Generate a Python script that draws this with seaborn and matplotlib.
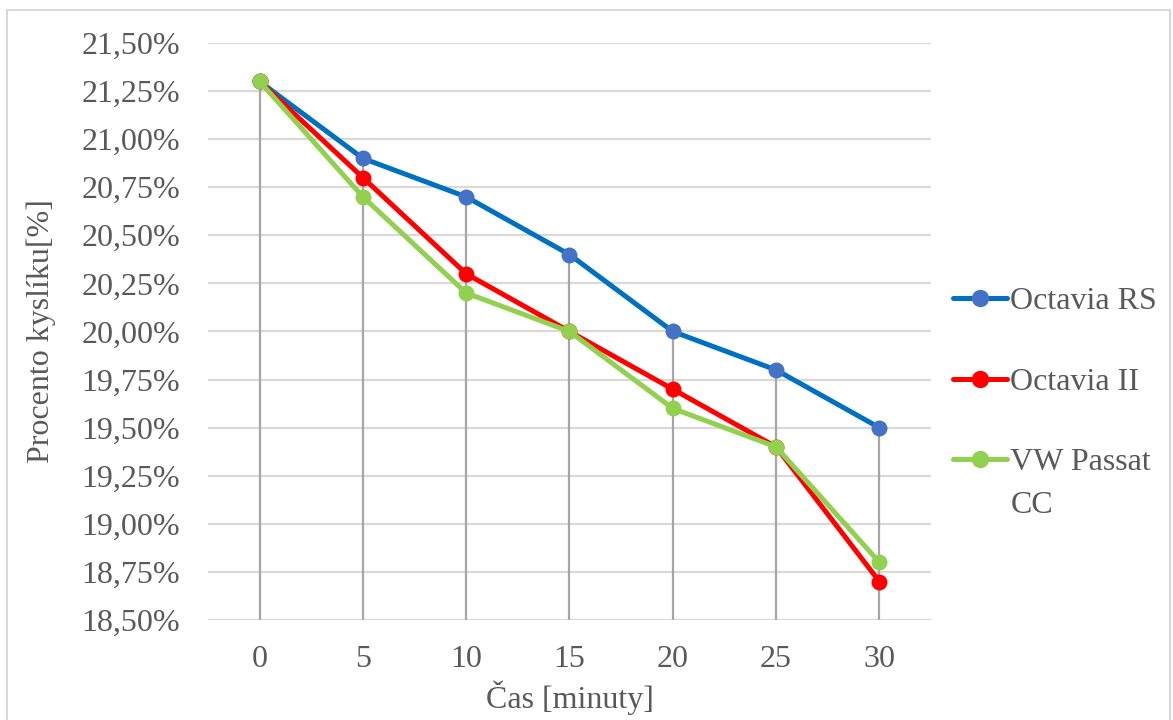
import pandas as pd
import seaborn as sns
import matplotlib.pyplot as plt
from matplotlib.patches import Rectangle
from matplotlib.lines import Line2D
from matplotlib.ticker import FuncFormatter

# data
times = [0, 5, 10, 15, 20, 25, 30]
octavia_rs = [21.30, 20.90, 20.70, 20.40, 20.00, 19.80, 19.50]
octavia_ii = [21.30, 20.80, 20.30, 20.00, 19.70, 19.40, 18.70]
passat_cc = [21.30, 20.70, 20.20, 20.00, 19.60, 19.40, 18.80]

series_names = ["Octavia RS", "Octavia II", "VW Passat CC"]
line_colors = ["#0070C0", "#FF0000", "#92D050"]
marker_colors = ["#4472C4", "#FF0000", "#92D050"]

y_ticks = [18.50, 18.75, 19.00, 19.25, 19.50, 19.75, 20.00, 20.25, 20.50, 20.75, 21.00, 21.25, 21.50]

# long format for seaborn
df = pd.DataFrame({
    "cas": times * 3,
    "kyslik": octavia_rs + octavia_ii + passat_cc,
    "auto": [series_names[0]] * 7 + [series_names[1]] * 7 + [series_names[2]] * 7,
})

sns.set_theme(style="white")
plt.rcParams["font.family"] = ["Liberation Serif", "DejaVu Serif"]
text_color = "#595959"

fig = plt.figure(figsize=(11.73, 7.2), dpi=100)
ax = fig.add_axes([0.1773, 0.1389, 0.6164, 0.8014])

# outer frame of the chart
fig.patches.append(Rectangle((7 / 1173, -0.02), (1170 - 7) / 1173, 1.02 - 10 / 720,
                             transform=fig.transFigure, fill=False,
                             edgecolor="#D9D9D9", linewidth=1.5))

# drop lines from the highest point down to the axis
tops = [max(a, b, c) for a, b, c in zip(octavia_rs, octavia_ii, passat_cc)]
ax.vlines(times, y_ticks[0], tops, color="#A6A6A6", linewidth=1.6, zorder=1)

sns.lineplot(data=df, x="cas", y="kyslik", hue="auto", palette=line_colors,
             marker="o", markersize=11.5, linewidth=3.6, markeredgewidth=0,
             legend=False, ax=ax, zorder=3)

for line, mc in zip(ax.get_lines(), marker_colors):
    line.set_markerfacecolor(mc)
    line.set_markeredgecolor(mc)

ax.set_xlim(-2.5, 32.5)
ax.set_ylim(18.5, 21.5)
ax.set_xticks(times)
ax.set_xticklabels([str(t) for t in times])
ax.set_yticks(y_ticks)
ax.yaxis.set_major_formatter(FuncFormatter(lambda v, p: f"{v:.2f}%".replace(".", ",")))

ax.grid(axis="y", color="#D9D9D9", linewidth=1.6)
ax.grid(axis="x", visible=False)
ax.set_axisbelow(True)
for s in ax.spines.values():
    s.set_visible(False)

ax.tick_params(axis="y", length=0, pad=20, labelsize=23, labelcolor=text_color)
ax.tick_params(axis="x", length=0, pad=18, labelsize=23, labelcolor=text_color)

ax.set_xlabel("Čas [minuty]", fontsize=23, color=text_color)
ax.set_ylabel("Procento kyslíku[%]", fontsize=23, color=text_color)
ax.xaxis.set_label_coords(0.5, -0.105)
ax.yaxis.set_label_coords(-0.21, 0.5)

# legend: the last name wraps onto a second line like in the original
handles = [Line2D([0], [0], color=lc, linewidth=3.6, marker="o", markersize=11.5,
                  markerfacecolor=mc, markeredgecolor=mc)
           for lc, mc in zip(line_colors, marker_colors)]
first_lines = [n.rsplit(" ", 1)[0] if n == series_names[2] else n for n in series_names]
leg = fig.legend(handles, first_lines, loc="center left",
                 bbox_to_anchor=(940 / 1173, 1 - 382 / 720), frameon=False,
                 fontsize=23, handlelength=1.7, handletextpad=0.1,
                 labelspacing=1.6, borderaxespad=0)
for t in leg.get_texts():
    t.set_color(text_color)

fig.canvas.draw()
last = leg.get_texts()[2].get_window_extent()
inv = fig.transFigure.inverted()
x0, y0 = inv.transform((last.x0, last.y0))
fig.text(x0, y0 - 14 / 720, series_names[2].rsplit(" ", 1)[1], fontsize=23,
         color=text_color, ha="left", va="top")

fig.savefig("out.png", dpi=100)
